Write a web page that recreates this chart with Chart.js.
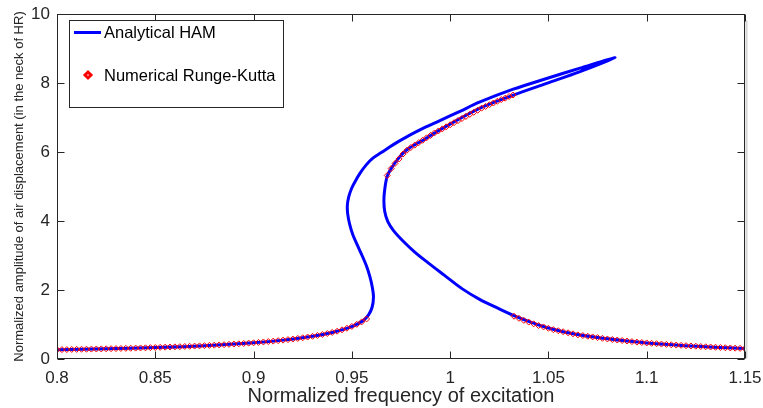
<!DOCTYPE html>
<html>
<head>
<meta charset="utf-8">
<script src="https://cdn.jsdelivr.net/npm/chart.js@4.4.0/dist/chart.umd.min.js"></script>
<style>
  html, body { margin: 0; padding: 0; background: #fff; }
  #wrap { width: 763px; height: 408px; position: relative; }
</style>
</head>
<body>
<div id="wrap"><canvas id="freqChart"></canvas></div>
<script>
// Tick values and labels
const xTicks = [0.8, 0.85, 0.9, 0.95, 1, 1.05, 1.1, 1.15];
const xTickLabels = ['0.8', '0.85', '0.9', '0.95', '1', '1.05', '1.1', '1.15'];
const yTicks = [0, 2, 4, 6, 8, 10];
const yTickLabels = ['0', '2', '4', '6', '8', '10'];

// Analytical HAM curve (traced along the path, including the fold)
const hamX = [0.800, 0.825, 0.850, 0.875, 0.900, 0.915, 0.930, 0.940, 0.947, 0.952,
  0.9555, 0.9585, 0.9603, 0.9610, 0.9604, 0.9591, 0.9574, 0.9552, 0.9528, 0.9505,
  0.9489, 0.9479, 0.9477, 0.9484, 0.9499, 0.9516, 0.9541, 0.9572, 0.9607, 0.9652,
  0.9694, 0.9736, 0.9779, 0.9864, 0.9948, 1.0050, 1.0152, 1.0321, 1.0491, 1.0661,
  1.0839, 1.0661, 1.0491, 1.0321, 1.0152, 0.9948, 0.9864, 0.9779, 0.9735, 0.9700,
  0.9680, 0.9668, 0.9663, 0.9667, 0.9683, 0.9712, 0.9760, 0.9820, 0.9890, 0.9970,
  1.0060, 1.0150, 1.0240, 1.0340, 1.0430, 1.0500, 1.0600, 1.0750, 1.0900, 1.1000,
  1.1250, 1.1500];
const hamY = [0.270, 0.296, 0.333, 0.387, 0.470, 0.547, 0.658, 0.770, 0.88, 0.99,
  1.10, 1.28, 1.50, 1.80, 2.08, 2.40, 2.70, 3.00, 3.30, 3.60,
  3.90, 4.20, 4.45, 4.70, 4.95, 5.14, 5.38, 5.62, 5.82, 5.99,
  6.15, 6.30, 6.44, 6.69, 6.91, 7.18, 7.45, 7.82, 8.13, 8.43,
  8.73, 8.33, 7.99, 7.65, 7.27, 6.64, 6.35, 6.06, 5.80, 5.52,
  5.30, 4.95, 4.60, 4.28, 3.98, 3.72, 3.42, 3.10, 2.78, 2.43,
  2.04, 1.73, 1.48, 1.22, 1.03, 0.90, 0.76, 0.62, 0.52, 0.466,
  0.370, 0.302];

// Numerical Runge-Kutta points: lower branch
const rkLowX = [0.8000, 0.8025, 0.8050, 0.8075, 0.8100, 0.8125, 0.8150, 0.8175, 0.8200, 0.8225,
  0.8250, 0.8275, 0.8300, 0.8325, 0.8350, 0.8375, 0.8400, 0.8425, 0.8450, 0.8475,
  0.8500, 0.8525, 0.8550, 0.8575, 0.8600, 0.8625, 0.8650, 0.8675, 0.8700, 0.8725,
  0.8750, 0.8775, 0.8800, 0.8825, 0.8850, 0.8875, 0.8900, 0.8925, 0.8950, 0.8975,
  0.9000, 0.9025, 0.9050, 0.9075, 0.9100, 0.9125, 0.9150, 0.9175, 0.9200, 0.9225,
  0.9250, 0.9275, 0.9300, 0.9325, 0.9350, 0.9375, 0.9400, 0.9425, 0.9450, 0.9475,
  0.9500, 0.9525, 0.9550, 0.9575];
const rkLowY = [0.270, 0.272, 0.274, 0.277, 0.279, 0.282, 0.284, 0.287, 0.290, 0.293,
  0.296, 0.299, 0.302, 0.305, 0.309, 0.312, 0.316, 0.320, 0.324, 0.329,
  0.333, 0.338, 0.342, 0.347, 0.352, 0.357, 0.363, 0.368, 0.374, 0.380,
  0.387, 0.394, 0.401, 0.408, 0.416, 0.424, 0.432, 0.441, 0.450, 0.460,
  0.470, 0.481, 0.493, 0.505, 0.518, 0.532, 0.547, 0.562, 0.578, 0.596,
  0.615, 0.636, 0.658, 0.683, 0.710, 0.739, 0.770, 0.805, 0.845, 0.892,
  0.945, 1.005, 1.075, 1.160];

// upper branch
const rkUpX = [0.968, 0.970, 0.972, 0.974, 0.976, 0.978, 0.980, 0.982, 0.984, 0.986,
  0.988, 0.990, 0.992, 0.994, 0.996, 0.998, 1.000, 1.002, 1.004, 1.006,
  1.008, 1.010, 1.012, 1.014, 1.016, 1.018, 1.020, 1.022, 1.024, 1.026,
  1.028, 1.030, 1.032];
const rkUpY = [5.32, 5.52, 5.67, 5.80, 5.94, 6.05, 6.13, 6.20, 6.27, 6.34,
  6.41, 6.48, 6.55, 6.61, 6.67, 6.73, 6.79, 6.85, 6.91, 6.97,
  7.03, 7.09, 7.15, 7.21, 7.27, 7.32, 7.37, 7.42, 7.47, 7.52,
  7.56, 7.61, 7.65];

// right branch
const rkHighX = [1.0325, 1.0350, 1.0375, 1.0400, 1.0425, 1.0450, 1.0475, 1.0500, 1.0525, 1.0550,
  1.0575, 1.0600, 1.0625, 1.0650, 1.0675, 1.0700, 1.0725, 1.0750, 1.0775, 1.0800,
  1.0825, 1.0850, 1.0875, 1.0900, 1.0925, 1.0950, 1.0975, 1.1000, 1.1025, 1.1050,
  1.1075, 1.1100, 1.1125, 1.1150, 1.1175, 1.1200, 1.1225, 1.1250, 1.1275, 1.1300,
  1.1325, 1.1350, 1.1375, 1.1400, 1.1425, 1.1450, 1.1475, 1.1500];
const rkHighY = [1.24, 1.18, 1.12, 1.07, 1.02, 0.97, 0.93, 0.89, 0.85, 0.82,
  0.79, 0.76, 0.73, 0.70, 0.68, 0.66, 0.64, 0.62, 0.60, 0.58,
  0.565, 0.55, 0.535, 0.52, 0.505, 0.49, 0.478, 0.466, 0.455, 0.444,
  0.433, 0.423, 0.413, 0.404, 0.395, 0.386, 0.378, 0.370, 0.362, 0.354,
  0.347, 0.340, 0.333, 0.326, 0.320, 0.314, 0.308, 0.302];

const FONT = '"Liberation Sans", Arial, Helvetica, sans-serif';
const AXIS = '#262626';

function toPoints(xs, ys) {
  return xs.map((x, i) => ({ x: x, y: ys[i] }));
}

const rkPoints = toPoints(rkLowX, rkLowY)
  .concat(toPoints(rkUpX, rkUpY))
  .concat(toPoints(rkHighX, rkHighY));

// box, inward ticks and legend
const framePlugin = {
  id: 'frame',
  afterDraw(chart) {
    const ctx = chart.ctx;
    const a = chart.chartArea;
    const xs = chart.scales.x, ys = chart.scales.y;
    const L = Math.round(a.left) + 0.5, R = Math.round(a.right) - 0.5;
    const T = Math.round(a.top) + 0.5, B = Math.round(a.bottom) - 0.5;
    ctx.save();

    ctx.strokeStyle = '#d4d4d4';
    ctx.lineWidth = 2;
    ctx.beginPath();
    ctx.moveTo(R + 2, T + 6);
    ctx.lineTo(R + 2, B);
    ctx.stroke();

    ctx.strokeStyle = AXIS;
    ctx.lineWidth = 1;
    ctx.strokeRect(L, T, R - L, B - T);
    ctx.beginPath();
    xs.ticks.forEach(t => {
      const px = Math.round(xs.getPixelForValue(t.value)) + 0.5;
      ctx.moveTo(px, B); ctx.lineTo(px, B - 7);
      ctx.moveTo(px, T); ctx.lineTo(px, T + 7);
    });
    ys.ticks.forEach(t => {
      const py = Math.round(ys.getPixelForValue(t.value)) + 0.5;
      ctx.moveTo(L, py); ctx.lineTo(L + 7, py);
      ctx.moveTo(R, py); ctx.lineTo(R - 7, py);
    });
    ctx.stroke();

    // legend
    const ham = chart.data.datasets[0];
    const rk = chart.data.datasets[1];
    ctx.fillStyle = '#fff';
    ctx.fillRect(69.5, 20.5, 214, 87);
    ctx.strokeStyle = AXIS;
    ctx.strokeRect(69.5, 20.5, 214, 87);

    ctx.strokeStyle = ham.borderColor;
    ctx.lineWidth = ham.borderWidth;
    ctx.beginPath();
    ctx.moveTo(74, 32.5);
    ctx.lineTo(101, 32.5);
    ctx.stroke();

    ctx.strokeStyle = rk.pointBorderColor;
    ctx.fillStyle = '#fff';
    Chart.helpers.drawPoint(ctx, { pointStyle: rk.pointStyle, radius: rk.pointRadius, borderWidth: rk.pointBorderWidth }, 88, 75);

    ctx.fillStyle = '#000';
    ctx.font = '16.5px ' + FONT;
    ctx.textBaseline = 'middle';
    ctx.textAlign = 'left';
    ctx.fillText(ham.label, 104, 33);
    ctx.fillText(rk.label, 104, 76);
    ctx.restore();
  }
};

new Chart(document.getElementById('freqChart'), {
  type: 'scatter',
  data: {
    datasets: [{
      label: 'Analytical HAM',
      data: toPoints(hamX, hamY),
      showLine: true,
      borderColor: '#0000ff',
      borderWidth: 3,
      pointRadius: 0,
      tension: 0.35,
      order: 1
    }, {
      label: 'Numerical Runge-Kutta',
      data: rkPoints,
      showLine: false,
      pointStyle: 'rectRot',
      pointRadius: 3,
      pointBorderWidth: 1,
      pointBorderColor: '#ff0000',
      pointBackgroundColor: 'rgba(255,255,255,0)',
      order: 0
    }]
  },
  options: {
    responsive: true,
    maintainAspectRatio: false,
    animation: false,
    events: [],
    layout: { padding: { top: 14, right: 18, left: 0, bottom: 0 } },
    plugins: {
      legend: { display: false },
      tooltip: { enabled: false }
    },
    scales: {
      x: {
        type: 'linear',
        min: 0.8,
        max: 1.15,
        afterBuildTicks: s => { s.ticks = xTicks.map(v => ({ value: v })); },
        afterFit: s => { s.height = 49; s.paddingLeft = 0; s.paddingRight = 0; },
        grid: { display: false, drawTicks: false },
        border: { display: false },
        ticks: {
          color: AXIS,
          padding: 9,
          maxRotation: 0,
          font: { size: 17, family: FONT },
          callback: (v, i) => xTickLabels[i]
        },
        title: {
          display: true,
          text: 'Normalized frequency of excitation',
          color: AXIS,
          padding: { top: 0, bottom: 0 },
          font: { size: 20, family: FONT }
        }
      },
      y: {
        type: 'linear',
        min: 0,
        max: 10,
        afterBuildTicks: s => { s.ticks = yTicks.map(v => ({ value: v })); },
        afterFit: s => { s.width = 57; s.paddingTop = 0; s.paddingBottom = 0; },
        grid: { display: false, drawTicks: false },
        border: { display: false },
        ticks: {
          color: AXIS,
          padding: 7,
          font: { size: 17, family: FONT },
          callback: (v, i) => yTickLabels[i]
        },
        title: {
          display: true,
          text: 'Normalized amplitude of air displacement (in the neck of HR)',
          color: AXIS,
          padding: { top: 12, bottom: 0 },
          font: { size: 13, family: FONT }
        }
      }
    }
  },
  plugins: [framePlugin]
});
</script>
</body>
</html>
